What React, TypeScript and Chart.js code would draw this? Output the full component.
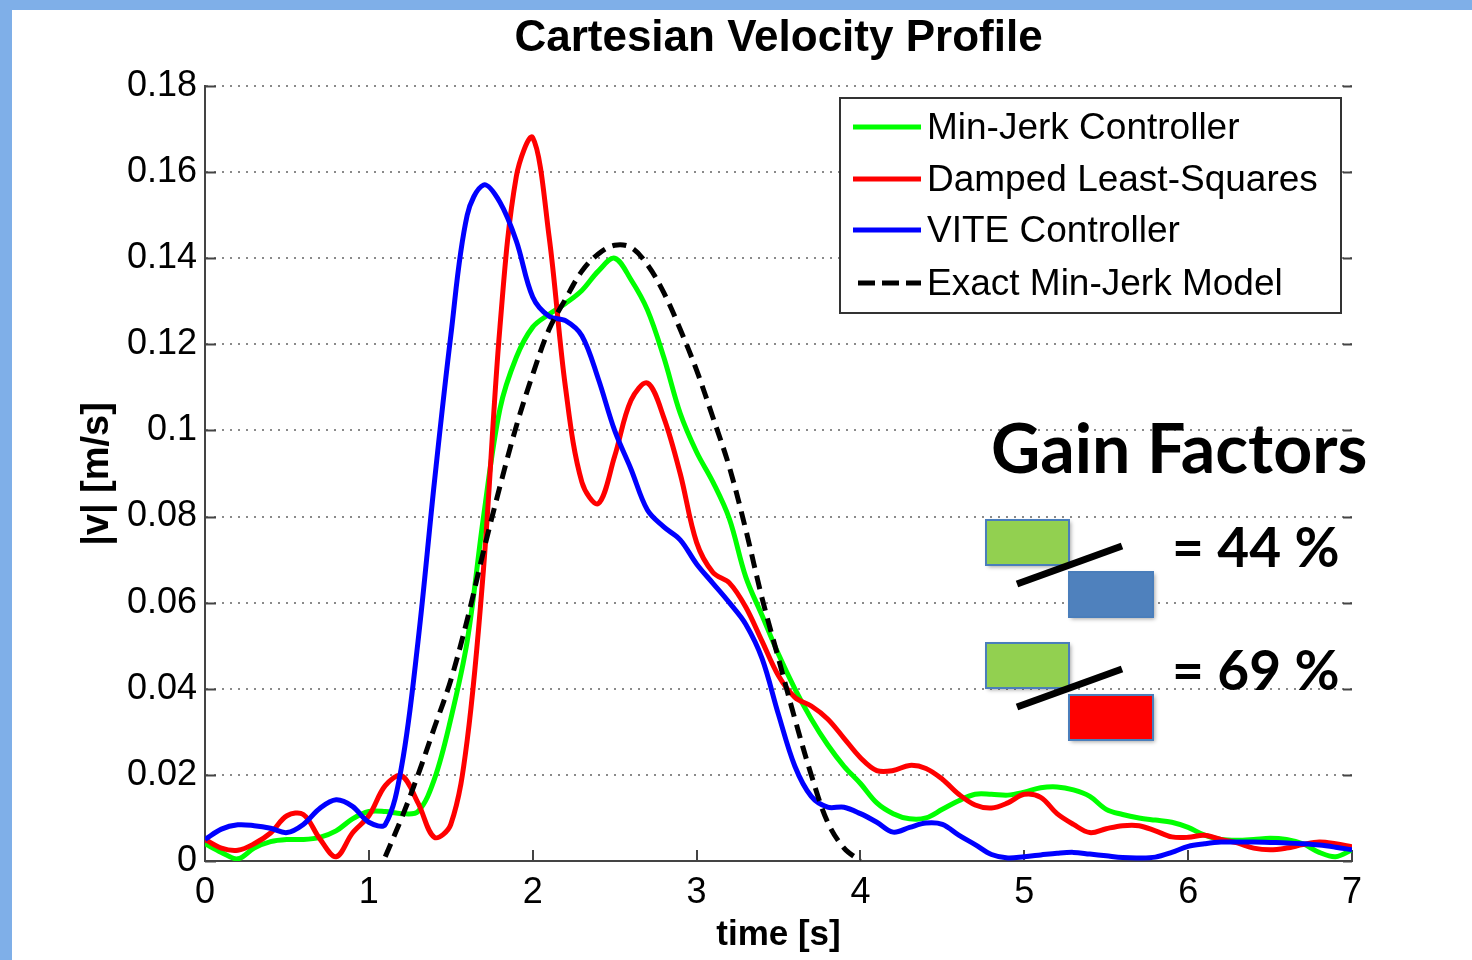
import React, { useEffect, useRef } from 'react';
import { Chart, registerables } from 'chart.js';

Chart.register(...registerables);

// ---------- data ----------
const time = [
  0.0, 0.1, 0.2, 0.3, 0.4, 0.5, 0.6, 0.7, 0.8, 0.9,
  1.0, 1.1, 1.2, 1.3, 1.4, 1.5, 1.6, 1.7, 1.8, 1.9,
  2.0, 2.1, 2.2, 2.3, 2.4, 2.5, 2.6, 2.7, 2.8, 2.9,
  3.0, 3.1, 3.2, 3.3, 3.4, 3.5, 3.6, 3.7, 3.8, 3.9,
  4.0, 4.1, 4.2, 4.3, 4.4, 4.5, 4.6, 4.7, 4.8, 4.9,
  5.0, 5.1, 5.2, 5.3, 5.4, 5.5, 5.6, 5.7, 5.8, 5.9,
  6.0, 6.1, 6.2, 6.3, 6.4, 6.5, 6.6, 6.7, 6.8, 6.9,
  7.0,
];

const minJerkController = [
  0.004, 0.002, 0.0005, 0.003, 0.0045, 0.005, 0.005, 0.0055, 0.007, 0.0098,
  0.0115, 0.0115, 0.011, 0.0115, 0.019, 0.033, 0.051, 0.080, 0.105, 0.117,
  0.124, 0.127, 0.1295, 0.1325, 0.137, 0.140, 0.135, 0.128, 0.117, 0.104,
  0.095, 0.088, 0.0795, 0.066, 0.057, 0.048, 0.040, 0.033, 0.027, 0.022,
  0.018, 0.0135, 0.011, 0.0098, 0.010, 0.012, 0.014, 0.0155, 0.0155, 0.0153,
  0.016, 0.017, 0.0172, 0.0165, 0.015, 0.012, 0.0108, 0.010, 0.0095, 0.009,
  0.0078, 0.006, 0.005, 0.0048, 0.005, 0.0053, 0.005, 0.004, 0.002, 0.001,
  0.0026,
];

const dampedLeastSquares = [
  0.005, 0.003, 0.0025, 0.004, 0.0065, 0.0105, 0.0108, 0.0052, 0.001, 0.0065,
  0.0105, 0.0175, 0.0198, 0.0135, 0.0055, 0.0085, 0.028, 0.068, 0.124, 0.159,
  0.168, 0.145, 0.110, 0.088, 0.083, 0.094, 0.107, 0.111, 0.103, 0.090,
  0.074, 0.067, 0.0646, 0.059, 0.051, 0.043, 0.038, 0.036, 0.033, 0.0285,
  0.024, 0.021, 0.021, 0.0222, 0.0215, 0.019, 0.0155, 0.013, 0.0123, 0.0135,
  0.0155, 0.0148, 0.011, 0.0085, 0.0066, 0.0075, 0.0082, 0.0082, 0.007, 0.0056,
  0.0055, 0.006, 0.005, 0.0042, 0.003, 0.0026, 0.003, 0.0038, 0.0044, 0.004,
  0.0033,
];

const viteController = [
  0.005, 0.0074, 0.0084, 0.0082, 0.0076, 0.0066, 0.0085, 0.0122, 0.0142, 0.0127,
  0.009, 0.0085, 0.022, 0.051, 0.088, 0.122, 0.150, 0.157, 0.153, 0.144,
  0.131, 0.1265, 0.1255, 0.122, 0.112, 0.100, 0.091, 0.0815, 0.0776, 0.0746,
  0.069, 0.0645, 0.060, 0.055, 0.047, 0.034, 0.022, 0.015, 0.0125, 0.0125,
  0.011, 0.009, 0.0067, 0.0078, 0.0088, 0.0085, 0.006, 0.0038, 0.0015, 0.0007,
  0.001, 0.0014, 0.0018, 0.002, 0.0016, 0.0012, 0.0008, 0.0007, 0.0009, 0.002,
  0.0034, 0.004, 0.0044, 0.0044, 0.0044, 0.0043, 0.0042, 0.004, 0.0037, 0.0032,
  0.0026,
];

const exactMinJerkModel = [
  null, null, null, null, null, null, null, null, null, null,
  null, 0.001, 0.010, 0.020, 0.031, 0.042, 0.056, 0.072, 0.087, 0.101,
  0.113, 0.1235, 0.1305, 0.137, 0.141, 0.143, 0.1425, 0.1385, 0.132, 0.1235,
  0.114, 0.103, 0.0915, 0.077, 0.061, 0.047, 0.033, 0.020, 0.009, 0.003,
  0.0, null, null, null, null, null, null, null, null, null,
  null, null, null, null, null, null, null, null, null, null,
  null, null, null, null, null, null, null, null, null, null,
  null,
];

const seriesLabels = [
  'Min-Jerk Controller',
  'Damped Least-Squares',
  'VITE Controller',
  'Exact Min-Jerk Model',
];

const yTickValues = [0, 0.02, 0.04, 0.06, 0.08, 0.1, 0.12, 0.14, 0.16, 0.18];
const yTickLabels = ['0', '0.02', '0.04', '0.06', '0.08', '0.1', '0.12', '0.14', '0.16', '0.18'];
const xTickLabels = ['0', '1', '2', '3', '4', '5', '6', '7'];

const chartTitle = 'Cartesian Velocity Profile';
const xAxisTitle = 'time [s]';
const yAxisTitle = '|v| [m/s]';
const gainTitle = 'Gain Factors';
const gainTexts = ['= 44 %', '= 69 %'];

// ---------- styling ----------
const FONT = '"Liberation Sans", Arial, Helvetica, sans-serif';
const CALIBRI = 'Lato, "Open Sans", sans-serif';

function pts(values: (number | null)[]) {
  return time.map((t, i) => ({ x: t, y: values[i] }));
}

const overlayPlugin = {
  id: 'overlay',
  beforeDraw(chart: any) {
    const ctx = chart.ctx;
    ctx.save();
    ctx.fillStyle = '#ffffff';
    ctx.fillRect(0, 0, chart.width, chart.height);
    ctx.fillStyle = '#7fafe8';
    ctx.fillRect(0, 0, chart.width, 10);
    ctx.fillRect(0, 0, 12, chart.height);
    ctx.restore();
  },
  beforeDatasetsDraw(chart: any) {
    const ctx = chart.ctx;
    const { left, right, bottom } = chart.chartArea;
    const xs = chart.scales.x;
    const ys = chart.scales.y;
    ctx.save();
    ctx.strokeStyle = '#444';
    ctx.lineWidth = 2;
    ctx.beginPath();
    ys.ticks.forEach((t: any) => {
      const y = Math.round(ys.getPixelForValue(t.value)) + 0.5;
      ctx.moveTo(left, y);
      ctx.lineTo(left + 11, y);
      ctx.moveTo(right, y);
      ctx.lineTo(right - 9, y);
    });
    xs.ticks.forEach((t: any) => {
      const x = Math.round(xs.getPixelForValue(t.value));
      ctx.moveTo(x, bottom);
      ctx.lineTo(x, bottom - 11);
    });
    ctx.stroke();
    ctx.restore();
  },
  afterDraw(chart: any) {
    const ctx = chart.ctx;
    const { left, right } = chart.chartArea;
    ctx.save();
    // title
    ctx.fillStyle = '#000';
    ctx.font = `bold 44px ${FONT}`;
    ctx.textAlign = 'center';
    ctx.textBaseline = 'middle';
    ctx.fillText(chartTitle, (left + right) / 2, 39);
    // axis titles
    ctx.font = `bold 35px ${FONT}`;
    ctx.fillText(xAxisTitle, (left + right) / 2, 935);
    ctx.save();
    ctx.translate(98, 474);
    ctx.rotate(-Math.PI / 2);
    ctx.font = `bold 38px ${FONT}`;
    ctx.fillText(yAxisTitle, 0, 0);
    ctx.restore();

    // legend
    const lx = 840, ly = 98, lw = 501, lh = 215;
    ctx.fillStyle = '#fff';
    ctx.fillRect(lx, ly, lw, lh);
    ctx.strokeStyle = '#333';
    ctx.lineWidth = 2;
    ctx.strokeRect(lx, ly, lw, lh);
    const rows = [127, 179, 230, 283];
    chart.data.datasets.forEach((ds: any, i: number) => {
      const y = rows[i];
      const dashed = ds.borderDash && ds.borderDash.length;
      ctx.save();
      ctx.strokeStyle = ds.borderColor;
      ctx.lineWidth = 5;
      ctx.setLineDash(dashed ? [17, 7] : []);
      ctx.beginPath();
      ctx.moveTo(dashed ? 858 : 853, y);
      ctx.lineTo(921, y);
      ctx.stroke();
      ctx.restore();
      ctx.fillStyle = '#000';
      ctx.font = `37px ${FONT}`;
      ctx.textAlign = 'left';
      ctx.textBaseline = 'middle';
      ctx.fillText(ds.label, 927, y + 2);
    });

    // gain factors annotation
    ctx.fillStyle = '#000';
    ctx.font = `bold 68px ${CALIBRI}`;
    ctx.textAlign = 'left';
    ctx.textBaseline = 'alphabetic';
    ctx.fillText(gainTitle, 991, 473);

    const groups = [
      { top: 520, color: '#4f81bd', text: gainTexts[0] },
      { top: 643, color: '#ff0000', text: gainTexts[1] },
    ];
    groups.forEach((g) => {
      ctx.save();
      ctx.shadowColor = 'rgba(0,0,0,0.35)';
      ctx.shadowBlur = 4;
      ctx.shadowOffsetX = 2;
      ctx.shadowOffsetY = 2;
      ctx.fillStyle = '#92d050';
      ctx.fillRect(986, g.top, 83, 45);
      ctx.fillStyle = g.color;
      ctx.fillRect(1069, g.top + 52, 84, 45);
      ctx.restore();
      ctx.strokeStyle = '#4a7ebb';
      ctx.lineWidth = 2;
      ctx.strokeRect(986, g.top, 83, 45);
      ctx.strokeRect(1069, g.top + 52, 84, 45);
      ctx.strokeStyle = '#000';
      ctx.lineWidth = 7;
      ctx.beginPath();
      ctx.moveTo(1017, g.top + 64);
      ctx.lineTo(1122, g.top + 26);
      ctx.stroke();
      ctx.fillStyle = '#000';
      ctx.font = `bold 55px ${CALIBRI}`;
      ctx.fillText(g.text, 1172, g.top + 47);
    });
    ctx.restore();
  },
};

export default function App() {
  const ref = useRef<HTMLCanvasElement | null>(null);

  useEffect(() => {
    document.body.style.margin = '0';
    const canvas = ref.current!;
    const chart = new Chart(canvas, {
      type: 'line',
      data: {
        datasets: [
          {
            label: seriesLabels[0],
            data: pts(minJerkController),
            borderColor: '#00ff00',
            borderWidth: 5,
            tension: 0.35,
            pointRadius: 0,
            order: 4,
          },
          {
            label: seriesLabels[1],
            data: pts(dampedLeastSquares),
            borderColor: '#ff0000',
            borderWidth: 5,
            tension: 0.35,
            pointRadius: 0,
            order: 3,
          },
          {
            label: seriesLabels[2],
            data: pts(viteController),
            borderColor: '#0000ff',
            borderWidth: 5,
            tension: 0.35,
            pointRadius: 0,
            order: 2,
          },
          {
            label: seriesLabels[3],
            data: pts(exactMinJerkModel),
            borderColor: '#000000',
            borderWidth: 5,
            borderDash: [14, 8],
            tension: 0.35,
            pointRadius: 0,
            spanGaps: false,
            order: 1,
          },
        ],
      },
      options: {
        responsive: false,
        animation: false,
        devicePixelRatio: 1,
        layout: { padding: { left: 0, top: 86, right: 120, bottom: 0 } },
        plugins: {
          legend: { display: false },
          title: { display: false },
          tooltip: { enabled: false },
        },
        scales: {
          x: {
            type: 'linear',
            min: 0,
            max: 7,
            afterFit: (s: any) => { s.height = 99; },
            afterBuildTicks: (s: any) => {
              s.ticks = xTickLabels.map((l) => ({ value: Number(l) }));
            },
            ticks: {
              callback: (v: any) => xTickLabels[xTickLabels.indexOf(String(v))] ?? '',
              color: '#000',
              font: { family: FONT, size: 36 },
              padding: 10,
              maxRotation: 0,
              autoSkip: false,
            },
            grid: { display: false, drawTicks: false },
            border: { display: true, color: '#444', width: 2 },
          },
          y: {
            type: 'linear',
            min: 0,
            max: 0.18,
            afterFit: (s: any) => { s.width = 205; },
            afterBuildTicks: (s: any) => {
              s.ticks = yTickValues.map((v) => ({ value: v }));
            },
            ticks: {
              callback: (v: any) => {
                const i = yTickValues.findIndex((t) => Math.abs(t - v) < 1e-9);
                return i >= 0 ? yTickLabels[i] : '';
              },
              color: '#000',
              font: { family: FONT, size: 36 },
              padding: 8,
              autoSkip: false,
            },
            grid: { display: true, drawTicks: false, color: '#8a8a8a', lineWidth: 2 },
            border: { display: true, color: '#444', width: 2, dash: [2, 6] },
          },
        },
      },
      plugins: [overlayPlugin],
    });
    return () => chart.destroy();
  }, []);

  return (
    <canvas
      ref={ref}
      width={1472}
      height={960}
      style={{ display: 'block', width: 1472, height: 960 }}
    />
  );
}
